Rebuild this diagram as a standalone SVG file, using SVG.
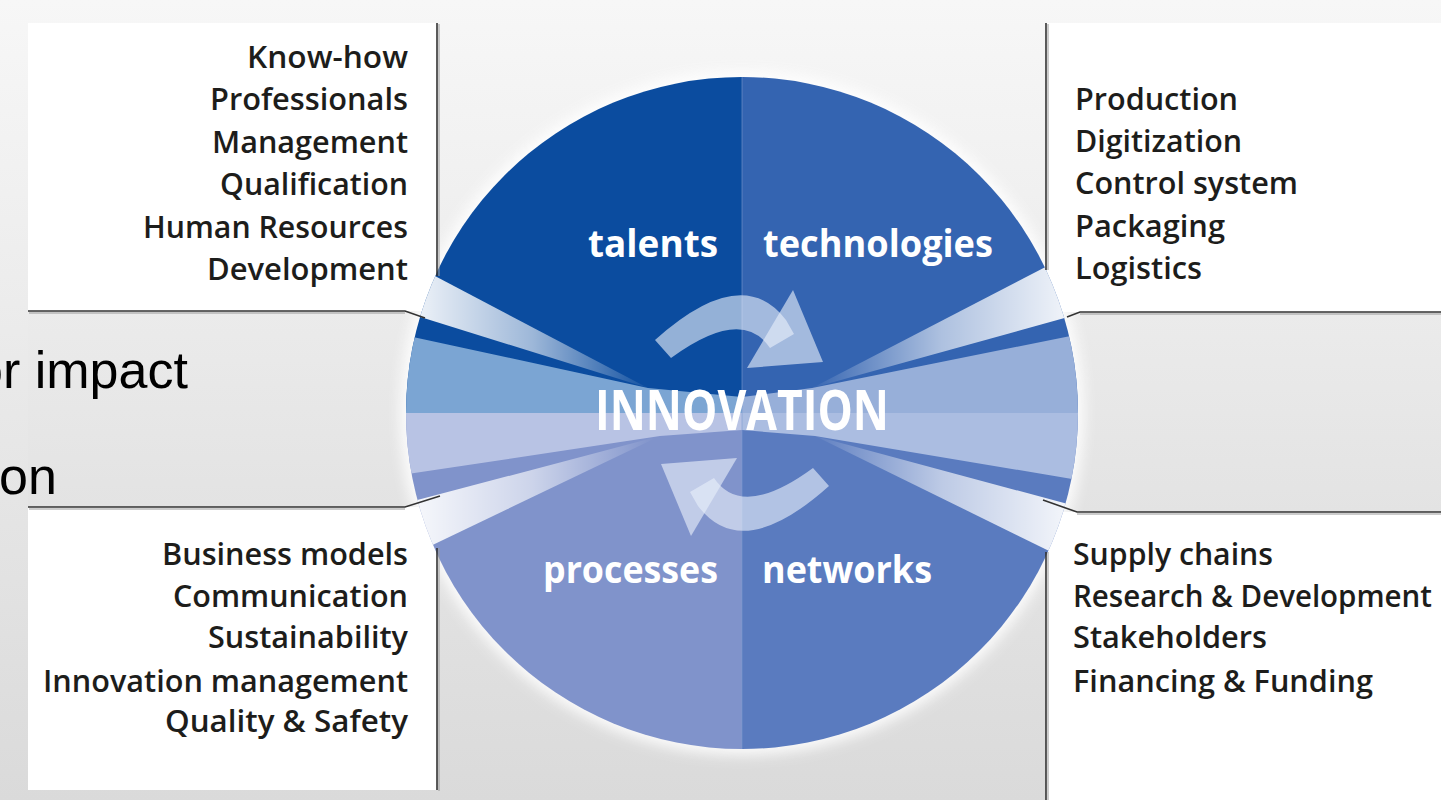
<svg xmlns="http://www.w3.org/2000/svg" width="1441" height="800" viewBox="0 0 1441 800">
<defs>
<style>
.box{fill:#ffffff}
.edge{fill:none;stroke:#333333;stroke-width:1.6}
.shade{fill:none;stroke:#9a9a9a;stroke-width:2;opacity:0.5}
.item{font-family:"Open Sans","Noto Sans",sans-serif;font-size:30px;font-weight:600;fill:#1d1d1b}
.lbl{font-family:"Open Sans","Noto Sans",sans-serif;font-size:38px;font-weight:bold;fill:#ffffff}
.big{font-family:"Open Sans","Noto Sans",sans-serif;font-size:56px;font-weight:bold;fill:#ffffff}
.over{font-family:"Liberation Sans",Arial,sans-serif;font-size:52px;fill:#000000}
.arrow{fill:#e8effa;opacity:0.62}
</style>
<linearGradient id="bg" x1="0" y1="0" x2="0" y2="1">
<stop offset="0" stop-color="#f7f7f7"/>
<stop offset="1" stop-color="#dadada"/>
</linearGradient>
<linearGradient id="band" x1="0" y1="0" x2="0" y2="1">
<stop offset="0" stop-color="#ebebeb"/>
<stop offset="1" stop-color="#e3e3e3"/>
</linearGradient>
<linearGradient id="wl" gradientUnits="userSpaceOnUse" x1="410" y1="0" x2="655" y2="0">
<stop offset="0" stop-color="#ffffff" stop-opacity="0.95"/>
<stop offset="0.5" stop-color="#ffffff" stop-opacity="0.6"/>
<stop offset="1" stop-color="#ffffff" stop-opacity="0"/>
</linearGradient>
<linearGradient id="wr" gradientUnits="userSpaceOnUse" x1="1075" y1="0" x2="808" y2="0">
<stop offset="0" stop-color="#ffffff" stop-opacity="0.95"/>
<stop offset="0.5" stop-color="#ffffff" stop-opacity="0.6"/>
<stop offset="1" stop-color="#ffffff" stop-opacity="0"/>
</linearGradient>
<clipPath id="cc"><circle cx="742" cy="413" r="336"/></clipPath>
<filter id="blur" x="-20%" y="-20%" width="140%" height="140%"><feGaussianBlur stdDeviation="7"/></filter>
</defs>

<rect x="0" y="0" width="1441" height="800" fill="url(#bg)"/>
<rect x="28" y="311" width="420" height="196" fill="url(#band)"/>
<rect x="1040" y="312" width="401" height="200" fill="url(#band)"/>

<g id="box-talents">
<rect class="box" x="28" y="23" width="409" height="288"/>
</g>
<g id="box-technologies">
<rect class="box" x="1046" y="23" width="395" height="289"/>
</g>
<g id="box-processes">
<rect class="box" x="28" y="507" width="409" height="283"/>
</g>
<g id="box-networks">
<rect class="box" x="1046" y="512" width="395" height="288"/>
</g>

<circle cx="742" cy="413" r="342" fill="#ffffff" opacity="0.9" filter="url(#blur)"/>

<g id="circle" clip-path="url(#cc)">
<rect x="400" y="70" width="342" height="343" fill="#0b4c9f"/>
<rect x="742" y="70" width="342" height="343" fill="#3464b1"/>
<rect x="400" y="413" width="342" height="343" fill="#8093cb"/>
<rect x="742" y="413" width="342" height="343" fill="#5a7bbf"/>
<polygon points="395,333 648,388 742,397 742,413 395,413" fill="#7ba5d3"/>
<polygon points="742,397 812,388 1090,332 1090,413 742,413" fill="#97afd9"/>
<polygon points="395,413 742,413 742,430 660,436 395,476" fill="#b8c3e4"/>
<polygon points="742,413 1090,413 1090,482 815,436 742,430" fill="#abbde1"/>
<polygon points="648,388 395,255 395,309" fill="url(#wl)"/>
<polygon points="660,436 395,506 395,563" fill="url(#wl)"/>
<polygon points="812,388 1090,244 1090,311" fill="url(#wr)"/>
<polygon points="815,436 1090,510 1090,571" fill="url(#wr)"/>
<line x1="742" y1="70" x2="742" y2="756" stroke="#7d9ad0" stroke-width="1" opacity="0.6"/>
</g>

<g id="connectors">
<path class="shade" d="M439,24 L439,276"/>
<path class="shade" d="M29,313 L405,313"/>
<path class="edge" d="M437,23 L437,276"/>
<path class="edge" d="M28,311 L405,311 L425,318"/>
<path class="shade" d="M1048,24 L1048,270"/>
<path class="shade" d="M1080,314 L1441,314"/>
<path class="edge" d="M1046,23 L1046,270"/>
<path class="edge" d="M1067,317 L1080,312 L1441,312"/>
<path class="shade" d="M439,548 L439,791"/>
<path class="shade" d="M29,509 L405,509"/>
<path class="edge" d="M437,548 L437,790"/>
<path class="edge" d="M28,507 L405,507 L440,496"/>
<path class="shade" d="M1048,552 L1048,800"/>
<path class="shade" d="M1077,514 L1441,514"/>
<path class="edge" d="M1046,552 L1046,800"/>
<path class="edge" d="M1043,500 L1077,512 L1441,512"/>
</g>

<g id="arrows">
<g id="arrow-top">
<path class="arrow" d="M655,340 Q742,262 786,320 L794,334 L770,348 Q742,306 671,358 Z"/>
<polygon class="arrow" points="793,290 823,362 747,368"/>
</g>
<g id="arrow-bottom" transform="rotate(180 742 413)">
<path class="arrow" d="M655,340 Q742,262 786,320 L794,334 L770,348 Q742,306 671,358 Z"/>
<polygon class="arrow" points="793,290 823,362 747,368"/>
</g>
</g>

<g id="labels">
<text class="lbl" x="588" y="257" textLength="130" lengthAdjust="spacingAndGlyphs">talents</text>
<text class="lbl" x="763" y="257" textLength="230" lengthAdjust="spacingAndGlyphs">technologies</text>
<text class="lbl" x="543" y="583" textLength="175" lengthAdjust="spacingAndGlyphs">processes</text>
<text class="lbl" x="762" y="583" textLength="170" lengthAdjust="spacingAndGlyphs">networks</text>
<text id="innovation" class="big" x="595" y="430" textLength="294" lengthAdjust="spacingAndGlyphs">INNOVATION</text>
</g>

<g id="items-talents" class="item" text-anchor="end">
<text x="408" y="68" textLength="161" lengthAdjust="spacingAndGlyphs">Know-how</text>
<text x="408" y="110" textLength="198" lengthAdjust="spacingAndGlyphs">Professionals</text>
<text x="408" y="153" textLength="196" lengthAdjust="spacingAndGlyphs">Management</text>
<text x="408" y="195" textLength="188" lengthAdjust="spacingAndGlyphs">Qualification</text>
<text x="408" y="238" textLength="265" lengthAdjust="spacingAndGlyphs">Human Resources</text>
<text x="408" y="280" textLength="201" lengthAdjust="spacingAndGlyphs">Development</text>
</g>
<g id="items-technologies" class="item">
<text x="1075" y="110" textLength="163" lengthAdjust="spacingAndGlyphs">Production</text>
<text x="1075" y="152" textLength="167" lengthAdjust="spacingAndGlyphs">Digitization</text>
<text x="1075" y="194" textLength="223" lengthAdjust="spacingAndGlyphs">Control system</text>
<text x="1075" y="237" textLength="150" lengthAdjust="spacingAndGlyphs">Packaging</text>
<text x="1075" y="279" textLength="127" lengthAdjust="spacingAndGlyphs">Logistics</text>
</g>
<g id="items-processes" class="item" text-anchor="end">
<text x="408" y="565" textLength="246" lengthAdjust="spacingAndGlyphs">Business models</text>
<text x="408" y="607" textLength="235" lengthAdjust="spacingAndGlyphs">Communication</text>
<text x="408" y="648" textLength="200" lengthAdjust="spacingAndGlyphs">Sustainability</text>
<text x="408" y="692" textLength="365" lengthAdjust="spacingAndGlyphs">Innovation management</text>
<text x="408" y="732" textLength="243" lengthAdjust="spacingAndGlyphs">Quality &amp; Safety</text>
</g>
<g id="items-networks" class="item">
<text x="1073" y="565" textLength="200" lengthAdjust="spacingAndGlyphs">Supply chains</text>
<text x="1073" y="607" textLength="359" lengthAdjust="spacingAndGlyphs">Research &amp; Development</text>
<text x="1073" y="648" textLength="194" lengthAdjust="spacingAndGlyphs">Stakeholders</text>
<text x="1073" y="692" textLength="300" lengthAdjust="spacingAndGlyphs">Financing &amp; Funding</text>
</g>

<g id="overlay-text" class="over">
<text x="-26" y="388">or impact</text>
<text x="-1" y="494">on</text>
</g>
</svg>
